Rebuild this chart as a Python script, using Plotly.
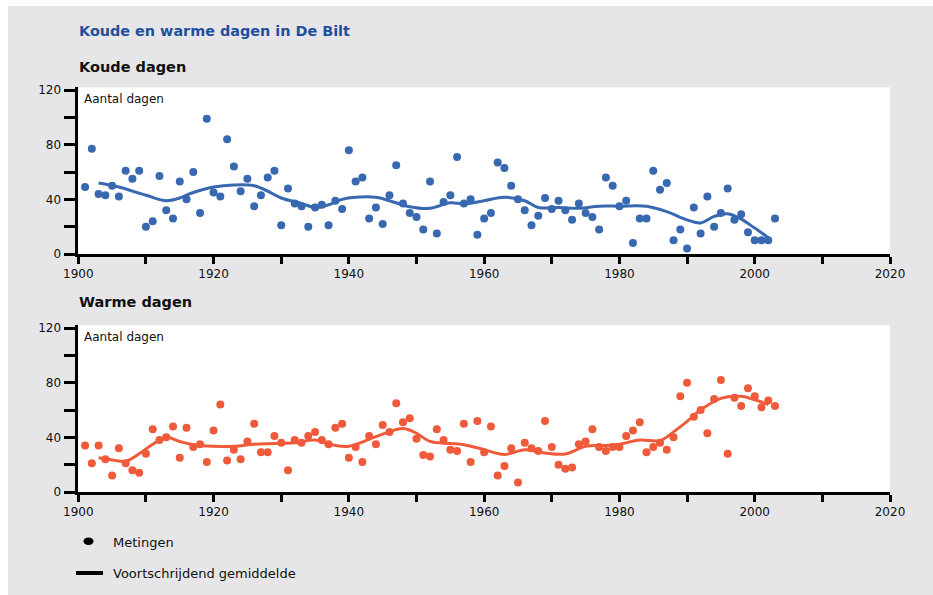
import plotly.graph_objects as go

# Years of observation
years = list(range(1901, 2004))

# Number of cold days per year (De Bilt)
koude_dagen = [
    49, 77, 44, 43, 50, 42, 61, 55, 61, 20,
    24, 57, 32, 26, 53, 40, 60, 30, 99, 45,
    42, 84, 64, 46, 55, 35, 43, 56, 61, 21,
    48, 37, 35, 20, 34, 36, 21, 39, 33, 76,
    53, 56, 26, 34, 22, 43, 65, 37, 30, 27,
    18, 53, 15, 38, 43, 71, 37, 40, 14, 26,
    30, 67, 63, 50, 40, 32, 21, 28, 41, 33,
    39, 32, 25, 37, 30, 27, 18, 56, 50, 35,
    39, 8, 26, 26, 61, 47, 52, 10, 18, 4,
    34, 15, 42, 20, 30, 48, 25, 29, 16, 10,
    10, 10, 26,
]

# Number of warm days per year (De Bilt)
warme_dagen = [
    34, 21, 34, 24, 12, 32, 21, 16, 14, 28,
    46, 38, 40, 48, 25, 47, 33, 35, 22, 45,
    64, 23, 31, 24, 37, 50, 29, 29, 41, 36,
    16, 38, 36, 41, 44, 38, 35, 47, 50, 25,
    33, 22, 41, 35, 49, 44, 65, 51, 54, 39,
    27, 26, 46, 38, 31, 30, 50, 22, 52, 29,
    48, 12, 19, 32, 7, 36, 32, 30, 52, 33,
    20, 17, 18, 35, 37, 46, 33, 30, 33, 33,
    41, 45, 51, 29, 33, 36, 31, 40, 70, 80,
    55, 60, 43, 68, 82, 28, 69, 63, 76, 70,
    62, 67, 63,
]

# Running mean (smoothed curve), sampled at selected years
koude_gem_jaren = [1903, 1906, 1910, 1913, 1915, 1917, 1920, 1923, 1926, 1928,
                   1930, 1933, 1935, 1937, 1939, 1941, 1944, 1946, 1949, 1952,
                   1955, 1957, 1960, 1963, 1966, 1968, 1971, 1974, 1977, 1980,
                   1984, 1987, 1990, 1992, 1994, 1996, 1998, 2000, 2002]
koude_gem = [52, 49, 43, 39, 41, 45, 49, 50.5, 50, 46,
             41, 37, 34, 36, 40, 41.5, 41.5, 39, 34.6, 33.4,
             37.5, 36.6, 39, 41.5, 39, 34, 34, 33.5, 35, 35,
             35, 31, 25, 22.7, 27.5, 29.5, 25.5, 19, 12]

warme_gem_jaren = [1903, 1905, 1907, 1909, 1911, 1913, 1915, 1917, 1920, 1923,
                   1926, 1929, 1932, 1935, 1937, 1940, 1944, 1948, 1950, 1952,
                   1955, 1957, 1960, 1963, 1966, 1969, 1972, 1975, 1978, 1980,
                   1983, 1986, 1988, 1990, 1992, 1995, 1998, 2000, 2002]
warme_gem = [25, 23.5, 22.5, 28, 35, 40, 37, 34.6, 33.5, 33.5,
             35, 35.5, 36, 38, 35, 33.5, 40.5, 46.5, 43, 37,
             35.5, 34.6, 31, 27.5, 31, 28.5, 27.8, 33.4, 34, 35,
             38, 37.6, 44, 51.7, 60, 68.5, 70, 67.5, 64]

BLAUW = "#3868b0"
ROOD = "#ef5a3a"
GRIJS = "#e6e6e8"
FONT = "DejaVu Sans"

W, H = 933, 595


def fx(px):
    return px / W


def fy(py):
    return (H - py) / H


fig = go.Figure()

fig.add_trace(go.Scatter(x=years, y=koude_dagen, mode="markers",
                         marker=dict(color=BLAUW, size=8, line=dict(width=0)),
                         xaxis="x", yaxis="y", showlegend=False))
fig.add_trace(go.Scatter(x=koude_gem_jaren, y=koude_gem, mode="lines",
                         line=dict(color=BLAUW, width=3, shape="spline", smoothing=1.0),
                         xaxis="x", yaxis="y", showlegend=False))
fig.add_trace(go.Scatter(x=years, y=warme_dagen, mode="markers",
                         marker=dict(color=ROOD, size=8, line=dict(width=0)),
                         xaxis="x2", yaxis="y2", showlegend=False))
fig.add_trace(go.Scatter(x=warme_gem_jaren, y=warme_gem, mode="lines",
                         line=dict(color=ROOD, width=3, shape="spline", smoothing=1.0),
                         xaxis="x2", yaxis="y2", showlegend=False))

xdom = [fx(78.3), fx(890)]


def xas(anchor):
    return dict(domain=xdom, range=[1900, 2020], anchor=anchor, automargin=False,
                tickvals=[1900, 1920, 1940, 1960, 1980, 2000, 2020],
                ticks="outside", ticklen=7, tickwidth=2.5, tickcolor="black",
                minor=dict(dtick=10, tick0=1900, ticks="outside", ticklen=7,
                           tickwidth=2.5, tickcolor="black"),
                showline=True, linecolor="black", linewidth=2.5,
                showgrid=False, zeroline=False,
                tickfont=dict(family=FONT, size=12, color="#111"))


def yas(anchor, dom):
    return dict(domain=dom, range=[0, 122], anchor=anchor, automargin=False,
                tickvals=[0, 40, 80, 120],
                ticks="outside", ticklen=12, tickwidth=2.5, tickcolor="black",
                minor=dict(tickvals=[20, 60, 100], ticks="outside", ticklen=12,
                           tickwidth=2.5, tickcolor="black"),
                showline=True, linecolor="black", linewidth=2.5,
                showgrid=False, zeroline=False,
                tickfont=dict(family=FONT, size=12, color="#111"))


fig.update_layout(
    width=W, height=H,
    margin=dict(l=0, r=0, t=0, b=0, pad=0, autoexpand=False),
    paper_bgcolor=GRIJS, plot_bgcolor="white",
    xaxis=xas("y"),
    yaxis=yas("x", [fy(254), fy(87.3)]),
    xaxis2=xas("y2"),
    yaxis2=yas("x2", [fy(492), fy(325.3)]),
    showlegend=False,
)

# white outer strips around the grey panel
shapes = [
    dict(type="rect", xref="paper", yref="paper", x0=0, x1=fx(8), y0=0, y1=1,
         fillcolor="white", line=dict(width=0), layer="below"),
    dict(type="rect", xref="paper", yref="paper", x0=0, x1=1, y0=fy(6), y1=1,
         fillcolor="white", line=dict(width=0), layer="below"),
    # legend symbols
    dict(type="circle", xref="paper", yref="paper",
         x0=fx(83.5), x1=fx(93.5), y0=fy(545), y1=fy(537.5),
         fillcolor="black", line=dict(width=0)),
    dict(type="line", xref="paper", yref="paper",
         x0=fx(76), x1=fx(103), y0=fy(573), y1=fy(573),
         line=dict(color="black", width=4)),
]

annotations = [
    dict(text="Koude en warme dagen in De Bilt", x=fx(77), y=fy(31),
         font=dict(family=FONT, size=14.4, color="#1f4f9c", weight="bold")),
    dict(text="Koude dagen", x=fx(77), y=fy(67),
         font=dict(family=FONT, size=14.5, color="#111", weight="bold")),
    dict(text="Warme dagen", x=fx(77), y=fy(302),
         font=dict(family=FONT, size=14.5, color="#111", weight="bold")),
    dict(text="Aantal dagen", x=fx(82), y=fy(99),
         font=dict(family=FONT, size=12, color="#111")),
    dict(text="Aantal dagen", x=fx(82), y=fy(337),
         font=dict(family=FONT, size=12, color="#111")),
    dict(text="Metingen", x=fx(111), y=fy(542),
         font=dict(family=FONT, size=13, color="#111")),
    dict(text="Voortschrijdend gemiddelde", x=fx(111), y=fy(573),
         font=dict(family=FONT, size=13, color="#111")),
]
for a in annotations:
    a.update(xref="paper", yref="paper", xanchor="left", yanchor="middle",
             showarrow=False)

fig.update_layout(shapes=shapes, annotations=annotations)

fig.write_html("out.html")
